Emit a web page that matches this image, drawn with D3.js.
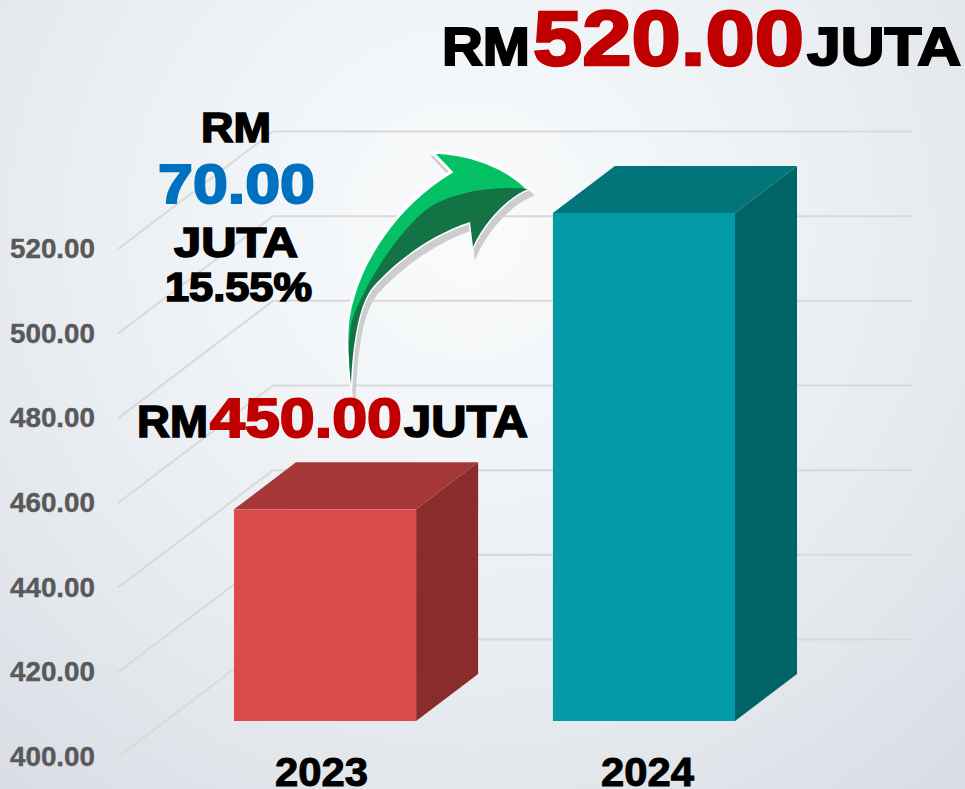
<!DOCTYPE html>
<html><head><meta charset="utf-8">
<script src="https://cdn.jsdelivr.net/npm/d3@7"></script>
<style>html,body{margin:0;padding:0;background:#eef0f4}svg{display:block}text{font-family:"Liberation Sans",Arial,sans-serif;font-weight:700}</style>
</head><body><svg id="c" width="965" height="789"></svg>
<script>
const years = ["2023", "2024"];
const values = [450, 520];
const tickValues = [400, 420, 440, 460, 480, 500, 520];
const barColors = [
  {front: "#dc4b4b", top: "#a53737", side: "#8b2c2c"},
  {front: "#039ba5", top: "#02757b", side: "#006467"}
];
const W = 965, H = 789;
const svg = d3.select("#c");
const defs = svg.append("defs");
const g = defs.append("radialGradient").attr("id", "bg").attr("gradientUnits", "userSpaceOnUse")
  .attr("cx", 470).attr("cy", 230).attr("r", 760);
[[0, "#f9fbfc"], [0.35, "#f0f3f6"], [0.7, "#e4e7ec"], [1, "#d8dbe3"]].forEach(s => g.append("stop").attr("offset", s[0]).attr("stop-color", s[1]));
svg.append("rect").attr("width", W).attr("height", H).attr("fill", "url(#bg)");

const y = d3.scaleLinear().domain([400, 520]).range([757, 249]);
const x = d3.scaleBand().domain(years).range([234, 735]).paddingInner(0.429).paddingOuter(0);
const wall = {dx: 155, dy: -117.5, right: 912, left: 118};
const bar = {floorDy: -36, dx: 62, dy: -47};

// gridlines: floor diagonal + back-wall line
const grid = svg.append("g").attr("fill", "none").attr("stroke", "#d9d9d9").attr("stroke-width", 2);
grid.selectAll("path").data(tickValues).join("path").attr("d", v => {
  const p = d3.path();
  p.moveTo(wall.left, y(v));
  p.lineTo(wall.left + wall.dx, y(v) + wall.dy);
  p.lineTo(wall.right, y(v) + wall.dy);
  return p.toString();
});

// y tick labels
svg.append("g").selectAll("text").data(tickValues).join("text")
  .attr("x", 95).attr("y", v => y(v) + 9).attr("text-anchor", "end")
  .attr("font-size", 27.5).attr("textLength", 85).attr("lengthAdjust", "spacingAndGlyphs")
  .attr("fill", "#595959").attr("stroke", "#595959").attr("stroke-width", 0.4)
  .text(d3.format(".2f"));

// 3D bars
const bars = svg.append("g").selectAll("g").data(years.map((yr, i) => ({yr, v: values[i], c: barColors[i]}))).join("g");
const poly = pts => "M" + pts.map(p => p.join(",")).join("L") + "Z";
bars.each(function(d) {
  const s = d3.select(this);
  const x0 = x(d.yr), x1 = x0 + x.bandwidth();
  const base = y(400) + bar.floorDy, top = y(d.v) + bar.floorDy;
  s.append("path").attr("fill", d.c.top).attr("d", poly([[x0, top], [x0 + bar.dx, top + bar.dy], [x1 + bar.dx, top + bar.dy], [x1, top]]));
  s.append("path").attr("fill", d.c.side).attr("d", poly([[x1, top], [x1 + bar.dx, top + bar.dy], [x1 + bar.dx, base + bar.dy], [x1, base]]));
  s.append("rect").attr("x", x0).attr("y", top).attr("width", x1 - x0).attr("height", base - top).attr("fill", d.c.front);
});

// arrow
function lowerEdge(p) {
  p.bezierCurveTo(510, 196, 485, 220, 473, 247);
  p.lineTo(470, 222);
  p.bezierCurveTo(430, 235, 395, 262, 373, 287);
  p.bezierCurveTo(361, 301, 353, 335, 351, 385);
  p.closePath();
}
function arrowOutline() {
  const p = d3.path();
  p.moveTo(351, 385);
  p.bezierCurveTo(345, 352, 345, 322, 353, 297);
  p.bezierCurveTo(363, 262, 392, 208, 451, 172);
  p.lineTo(432, 152);
  p.bezierCurveTo(470, 153, 505, 166, 528, 189);
  lowerEdge(p);
  return p.toString();
}
function arrowDark() {
  const p = d3.path();
  p.moveTo(351, 385);
  p.bezierCurveTo(348, 360, 348, 335, 353, 317);
  p.bezierCurveTo(375, 262, 415, 213, 437, 203);
  p.bezierCurveTo(465, 190, 497, 186, 528, 189);
  lowerEdge(p);
  return p.toString();
}
const arrow = svg.append("g");
arrow.append("path").attr("d", arrowOutline()).attr("fill", "#cbcdcf").attr("stroke", "#cbcdcf").attr("stroke-width", 4)
  .attr("stroke-miterlimit", 10).attr("transform", "translate(3,6)");
arrow.append("path").attr("d", arrowOutline()).attr("fill", "#05c165").attr("stroke", "#fff").attr("stroke-width", 3).attr("stroke-miterlimit", 10);
arrow.append("path").attr("d", arrowDark()).attr("fill", "#137344");

// annotation text
const RED = "#c00000", BLUE = "#0070c0", BLK = "#000";
const labels = [
  ["RM", 442, 65, 54, 88, BLK, 2],
  [d3.format(".2f")(values[1]), 533, 65, 78, 271, RED, 2.5],
  ["JUTA", 807, 65, 54, 154, BLK, 2],
  ["RM", 137, 437, 44, 71, BLK, 1.6],
  [d3.format(".2f")(values[0]), 210, 437, 56, 192, RED, 2],
  ["JUTA", 404, 437, 44, 124, BLK, 1.6],
  ["RM", 201, 142, 42, 70, BLK, 1.6],
  [d3.format(".2f")(values[1] - values[0]), 158, 203, 56, 157, BLUE, 2],
  ["JUTA", 174, 257, 42, 124, BLK, 1.6],
  ["15.55%", 165, 301, 40, 147, BLK, 1.6],
  [years[0], 275, 786, 40, 93, BLK, 1],
  [years[1], 601, 786, 40, 93, BLK, 1]
];
svg.append("g").selectAll("text").data(labels).join("text")
  .attr("x", d => d[1]).attr("y", d => d[2]).attr("font-size", d => d[3])
  .attr("textLength", d => d[4]).attr("lengthAdjust", "spacingAndGlyphs")
  .attr("fill", d => d[5]).attr("stroke", d => d[5]).attr("stroke-width", d => d[6])
  .text(d => d[0]);
</script></body></html>
